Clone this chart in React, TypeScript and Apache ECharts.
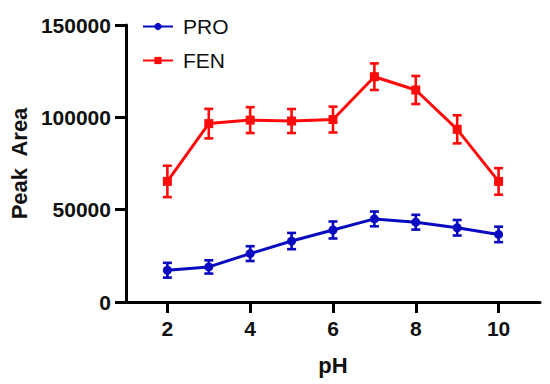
import React, { useEffect, useRef } from "react";
import * as echarts from "echarts";

const phValues = [2, 3, 4, 5, 6, 7, 8, 9, 10];
const xTickValues = [2, 4, 6, 8, 10];
const proMean = [17200, 19000, 26200, 33000, 39000, 45000, 43200, 40200, 36600];
const proErr = [4000, 3600, 4000, 4400, 4600, 4000, 4000, 4200, 4200];
const fenMean = [65300, 96600, 98500, 98000, 98800, 122000, 114800, 93500, 65300];
const fenErr = [8500, 8000, 7000, 6500, 7000, 7200, 7600, 7600, 7200];

const BLUE = "#0A0AC0";
const RED = "#FF0A0A";
const FONT = "'Liberation Sans', Arial, Helvetica, sans-serif";

function errData(mean: number[], err: number[]) {
  return phValues.map((x, i) => [x, mean[i] - err[i], mean[i] + err[i]]);
}

function errSeries(name: string, color: string, data: number[][]) {
  return {
    type: "custom",
    name,
    data,
    encode: { x: 0, y: [1, 2] },
    z: 3,
    silent: true,
    renderItem: (params: any, api: any) => {
      const x = api.value(0);
      const lo = api.coord([x, api.value(1)]);
      const hi = api.coord([x, api.value(2)]);
      const hw = 4.5;
      const style = { stroke: color, lineWidth: 2.6, fill: "none" };
      return {
        type: "group",
        children: [
          { type: "line", shape: { x1: lo[0], y1: lo[1], x2: hi[0], y2: hi[1] }, style },
          { type: "line", shape: { x1: lo[0] - hw, y1: lo[1], x2: lo[0] + hw, y2: lo[1] }, style },
          { type: "line", shape: { x1: hi[0] - hw, y1: hi[1], x2: hi[0] + hw, y2: hi[1] }, style },
        ],
      };
    },
  };
}

export default function App() {
  const ref = useRef<HTMLDivElement>(null);
  useEffect(() => {
    if (!ref.current) return;
    const chart = echarts.init(ref.current, undefined, { renderer: "svg" });
    chart.setOption({
      animation: false,
      backgroundColor: "#ffffff",
      textStyle: { fontFamily: FONT },
      grid: { left: 122, right: 10, top: 25, bottom: 82 },
      legend: {
        data: ["PRO", "FEN"],
        orient: "vertical",
        left: 137,
        top: 11,
        itemWidth: 30,
        itemHeight: 9,
        itemGap: 13,
        textStyle: { fontSize: 21, color: "#111", fontFamily: FONT, padding: [0, 0, 0, 5] },
      },
      xAxis: {
        type: "value",
        min: 1,
        max: 11,
        name: "pH",
        nameLocation: "middle",
        nameGap: 52,
        nameTextStyle: { fontSize: 22, fontWeight: "bold", color: "#111", fontFamily: FONT },
        splitLine: { show: false },
        axisLine: { show: true, lineStyle: { color: "#000", width: 3 } },
        axisTick: { show: true, length: 11, customValues: xTickValues, lineStyle: { color: "#000", width: 3 } },
        axisLabel: {
          customValues: xTickValues,
          margin: 16,
          fontSize: 21,
          fontWeight: "bold",
          color: "#111",
          fontFamily: FONT,
        },
      },
      yAxis: {
        type: "value",
        min: 0,
        max: 150000,
        interval: 50000,
        name: "Peak  Area",
        nameLocation: "middle",
        nameGap: 92,
        nameTextStyle: { fontSize: 22, fontWeight: "bold", color: "#111", fontFamily: FONT },
        splitLine: { show: false },
        axisLine: { show: true, lineStyle: { color: "#000", width: 3 } },
        axisTick: { show: true, length: 11, lineStyle: { color: "#000", width: 3 } },
        axisLabel: {
          margin: 15,
          fontSize: 21,
          fontWeight: "bold",
          color: "#111",
          fontFamily: FONT,
          formatter: (v: number) => String(v),
        },
      },
      series: [
        {
          type: "line",
          name: "PRO",
          data: phValues.map((x, i) => [x, proMean[i]]),
          symbol: "circle",
          symbolSize: 9,
          color: BLUE,
          lineStyle: { width: 3, color: BLUE },
          itemStyle: { color: BLUE },
          z: 4,
        },
        {
          type: "line",
          name: "FEN",
          data: phValues.map((x, i) => [x, fenMean[i]]),
          symbol: "rect",
          symbolSize: 9,
          color: RED,
          lineStyle: { width: 3, color: RED },
          itemStyle: { color: RED },
          z: 4,
        },
        errSeries("PRO-err", BLUE, errData(proMean, proErr)),
        errSeries("FEN-err", RED, errData(fenMean, fenErr)),
      ],
    });
    return () => chart.dispose();
  }, []);
  return <div ref={ref} style={{ width: 550, height: 384, position: "absolute", left: 0, top: 0 }} />;
}
